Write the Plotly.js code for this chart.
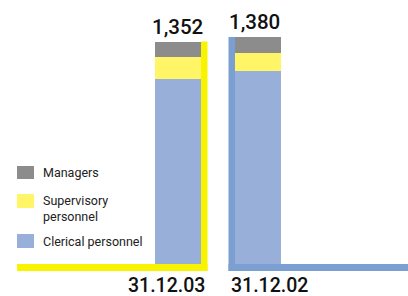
<!DOCTYPE html>
<html>
<head>
<meta charset="utf-8">
<script src="https://cdn.plot.ly/plotly-3.0.1.min.js"></script>
<style>html,body{margin:0;padding:0;background:#fff;}#chart{width:408px;height:296px;}</style>
</head>
<body>
<div id="chart"></div>
<script>
// Data
const categories = ["31.12.03", "31.12.02"];
const clerical = [1127, 1175];
const supervisory = [134, 110];
const managers = [91, 95];
const totalLabels = ["1,352", "1,380"];
const seriesNames = ["Managers", "Supervisory<br>personnel", "Clerical personnel"];

const totals = categories.map((c, i) => clerical[i] + supervisory[i] + managers[i]);

// Style / geometry
const W = 408, H = 296;
const pxPerUnit = 0.1645;
const baseY = 264;
const pxPerCat = 80;
const cat0px = 178;
const barW = 0.575;
const colMan = "#8c8c8c", colSup = "#fff566", colCle = "#98b0d9";
const frameYellow = "#f8f400", frameBlue = "#7b9fd1";
const fontFam = "Roboto, 'Liberation Sans', sans-serif";

const yMin = -(H - baseY) / pxPerUnit;
const yMax = baseY / pxPerUnit;
const xMin = -cat0px / pxPerCat;
const xMax = (W - cat0px) / pxPerCat;
const framePx = 6.5 / pxPerCat;
const frameDy = -7 / pxPerUnit;

const traces = [
  {type: "bar", x: categories, y: clerical, name: seriesNames[2], marker: {color: colCle}, width: barW, hoverinfo: "none"},
  {type: "bar", x: categories, y: supervisory, name: seriesNames[1], marker: {color: colSup}, width: barW, hoverinfo: "none"},
  {type: "bar", x: categories, y: managers, name: seriesNames[0], marker: {color: colMan}, width: barW, hoverinfo: "none"}
];

const shapes = [
  {type: "rect", xref: "x", yref: "y", x0: barW / 2, x1: barW / 2 + framePx, y0: frameDy, y1: totals[0], fillcolor: frameYellow, line: {width: 0}, layer: "below"},
  {type: "rect", xref: "x", yref: "y", x0: (17 - cat0px) / pxPerCat, x1: barW / 2 + framePx, y0: frameDy, y1: 0, fillcolor: frameYellow, line: {width: 0}, layer: "below"},
  {type: "rect", xref: "x", yref: "y", x0: 1 - barW / 2 - framePx, x1: 1 - barW / 2, y0: frameDy, y1: totals[1], fillcolor: frameBlue, line: {width: 0}, layer: "below"},
  {type: "rect", xref: "x", yref: "y", x0: 1 - barW / 2 - framePx, x1: xMax + 1, y0: frameDy, y1: 0, fillcolor: frameBlue, line: {width: 0}, layer: "below"}
];

const px = v => v / W, py = v => 1 - v / H;
const legendItems = [
  {name: seriesNames[0], color: colMan, top: 166, bot: 179, ty: 172.5},
  {name: seriesNames[1], color: colSup, top: 194, bot: 208, ty: 208.5},
  {name: seriesNames[2], color: colCle, top: 234, bot: 248, ty: 241}
];
legendItems.forEach(it => {
  shapes.push({type: "rect", xref: "paper", yref: "paper", x0: px(17), x1: px(34), y0: py(it.bot), y1: py(it.top), fillcolor: it.color, line: {width: 0}});
});

const annotations = [];
legendItems.forEach(it => {
  annotations.push({xref: "paper", yref: "paper", x: px(41), y: py(it.ty), xanchor: "left", yanchor: "middle", align: "left",
    text: it.name, showarrow: false, font: {family: fontFam, size: 12.5, color: "#222"}});
});
const totShift = [-1, -4];
categories.forEach((c, i) => {
  annotations.push({xref: "x", yref: "y", x: c, y: totals[i], xanchor: "center", yanchor: "bottom", yshift: 1, xshift: totShift[i],
    text: totalLabels[i], showarrow: false, font: {family: fontFam, size: 20.5, color: "#111", weight: 500}});
});
const dateAnchor = ["right", "left"], dateShift = [29, -29];
categories.forEach((c, i) => {
  annotations.push({xref: "x", yref: "y", x: c, y: 0, xanchor: dateAnchor[i], yanchor: "middle", yshift: -21, xshift: dateShift[i],
    text: c, showarrow: false, font: {family: fontFam, size: 19.5, color: "#111", weight: 500}});
});

const layout = {
  width: W, height: H,
  margin: {l: 0, r: 0, t: 0, b: 0, pad: 0},
  paper_bgcolor: "#fff", plot_bgcolor: "#fff",
  barmode: "stack", showlegend: false,
  xaxis: {type: "category", range: [xMin, xMax], visible: false, fixedrange: true},
  yaxis: {range: [yMin, yMax], visible: false, fixedrange: true},
  shapes: shapes, annotations: annotations
};

Plotly.newPlot("chart", traces, layout, {displayModeBar: false, staticPlot: true});
</script>
</body>
</html>
